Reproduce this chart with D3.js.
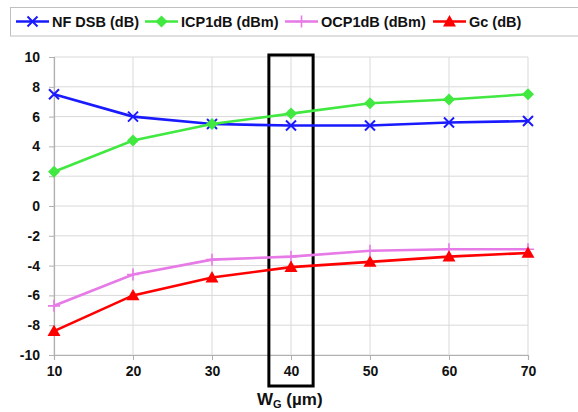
<!DOCTYPE html>
<html><head><meta charset="utf-8">
<script src="https://cdn.jsdelivr.net/npm/d3@7"></script>
<style>body{margin:0;background:#fff;} text{font-family:"Liberation Sans",Arial,sans-serif;font-weight:bold;}</style>
</head><body>
<svg id="c" width="578" height="412"></svg>
<script>
const widths = [10, 20, 30, 40, 50, 60, 70];
const nfDSB = [7.5, 6.0, 5.5, 5.4, 5.4, 5.6, 5.7];
const icp1dB = [2.3, 4.4, 5.5, 6.2, 6.9, 7.15, 7.5];
const ocp1dB = [-6.7, -4.6, -3.6, -3.4, -3.0, -2.9, -2.9];
const gc = [-8.4, -6.0, -4.8, -4.1, -3.75, -3.4, -3.15];
const yTicks = [-10, -8, -6, -4, -2, 0, 2, 4, 6, 8, 10];
const seriesNames = ["NF DSB (dB)", "ICP1dB (dBm)", "OCP1dB (dBm)", "Gc (dB)"];
const highlight = {x0: 37.2, x1: 42.8};

const series = [
  {name: seriesNames[0], values: nfDSB, color: "#1a1aff", marker: "x"},
  {name: seriesNames[1], values: icp1dB, color: "#40e840", marker: "diamond"},
  {name: seriesNames[2], values: ocp1dB, color: "#e67ae6", marker: "plus"},
  {name: seriesNames[3], values: gc, color: "#ff0000", marker: "triangle"}
];

const svg = d3.select("#c");
const x = d3.scaleLinear().domain([10, 70]).range([54, 528]);
const y = d3.scaleLinear().domain([-10, 10]).range([355, 57]);

// grid
svg.append("g").selectAll("line").data(yTicks).join("line")
  .attr("x1", x(10)).attr("x2", x(70)).attr("y1", d => y(d)).attr("y2", d => y(d))
  .attr("stroke", "#d9d9d9").attr("stroke-width", 1);
svg.append("g").selectAll("line").data(widths).join("line")
  .attr("x1", d => x(d)).attr("x2", d => x(d)).attr("y1", y(10)).attr("y2", y(-10))
  .attr("stroke", "#d9d9d9").attr("stroke-width", 1);

// axes
const fmt = d => String(d);
const yAxis = d3.axisLeft(y).tickValues(yTicks).tickFormat(fmt).tickSize(5).tickPadding(9);
const gy = svg.append("g").attr("transform", `translate(${x(10)},0)`).call(yAxis);
const xAxis = d3.axisBottom(x).tickValues(widths).tickFormat(fmt).tickSize(5).tickPadding(6);
const gx = svg.append("g").attr("transform", `translate(0,${y(-10)})`).call(xAxis);
[gx, gy].forEach(g => {
  g.select(".domain").attr("stroke", "#b0b0b0").attr("stroke-width", 1.2);
  g.selectAll(".tick line").attr("stroke", "#b0b0b0");
  g.selectAll(".tick text").attr("fill", "#111").style("font-size", "14px").style("font-weight", "bold")
   .style("font-family", '"Liberation Sans",Arial,sans-serif');
});

// highlight box
svg.append("rect")
  .attr("x", x(highlight.x0)).attr("y", 55)
  .attr("width", x(highlight.x1) - x(highlight.x0)).attr("height", 331)
  .attr("fill", "none").attr("stroke", "#000").attr("stroke-width", 3);

function drawMarker(g, type, cx, cy, color) {
  if (type === "x") {
    const s = 5;
    g.append("path").attr("d", `M${cx-s},${cy-s}L${cx+s},${cy+s}M${cx-s},${cy+s}L${cx+s},${cy-s}`)
      .attr("stroke", color).attr("stroke-width", 2).attr("fill", "none");
  } else if (type === "plus") {
    const s = 6;
    g.append("path").attr("d", `M${cx-s},${cy}L${cx+s},${cy}M${cx},${cy-s}L${cx},${cy+s}`)
      .attr("stroke", color).attr("stroke-width", 1.6).attr("fill", "none");
  } else if (type === "diamond") {
    const s = 6;
    g.append("path").attr("d", `M${cx},${cy-s}L${cx+s},${cy}L${cx},${cy+s}L${cx-s},${cy}Z`).attr("fill", color);
  } else if (type === "triangle") {
    const s = 6.5;
    g.append("path").attr("d", `M${cx},${cy-s}L${cx+s},${cy+s*0.75}L${cx-s},${cy+s*0.75}Z`).attr("fill", color);
  }
}

const line = d3.line().x((d, i) => x(widths[i])).y(d => y(d));
series.forEach(s => {
  const g = svg.append("g");
  g.append("path").datum(s.values).attr("d", line).attr("fill", "none")
    .attr("stroke", s.color).attr("stroke-width", 2.6);
  s.values.forEach((v, i) => drawMarker(g, s.marker, x(widths[i]), y(v), s.color));
});

// x axis title
const t = svg.append("text").attr("x", 257).attr("y", 405).attr("fill", "#111").style("font-size", "17px");
t.append("tspan").text("W");
t.append("tspan").attr("dy", 3).style("font-size", "11px").text("G");
t.append("tspan").attr("dy", -3).text(" (µm)");

// legend
svg.append("rect").attr("x", 10.5).attr("y", 7.5).attr("width", 600).attr("height", 28.5)
  .attr("fill", "#fff").attr("stroke", "#c0c0c0").attr("stroke-width", 1);
const legendX = [16, 145, 285, 433];
series.forEach((s, i) => {
  const g = svg.append("g");
  const lx = legendX[i], ly = 21.5;
  g.append("line").attr("x1", lx).attr("x2", lx + 33).attr("y1", ly).attr("y2", ly)
    .attr("stroke", s.color).attr("stroke-width", 2.6);
  drawMarker(g, s.marker, lx + 16.5, ly, s.color);
  g.append("text").attr("x", lx + 36).attr("y", ly + 5).attr("fill", "#111")
    .style("font-size", "14.5px").text(s.name);
});
</script>
</body></html>
